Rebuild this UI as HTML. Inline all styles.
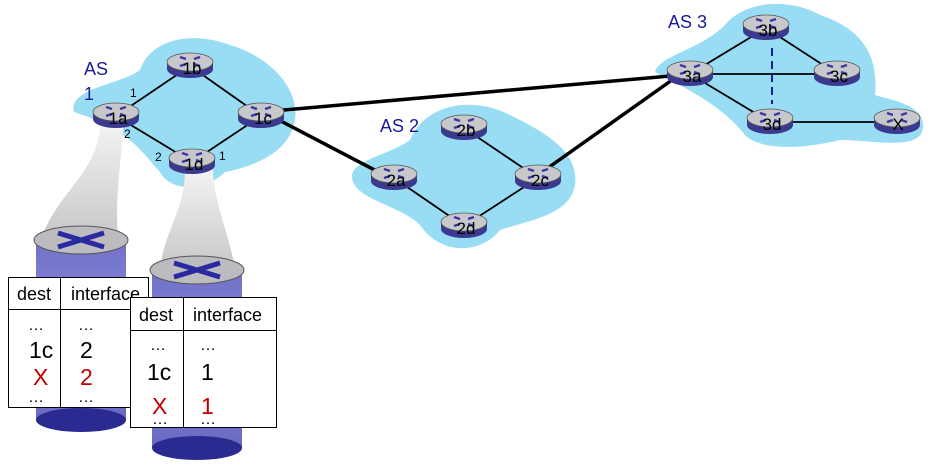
<!DOCTYPE html>
<html><head><style>body{margin:0;background:#fff}svg{display:block}text{font-family:"Liberation Sans",sans-serif}</style></head><body>
<svg width="933" height="473" viewBox="0 0 933 473" xmlns="http://www.w3.org/2000/svg">
<defs>
<linearGradient id="fun" x1="0" y1="0" x2="0" y2="1"><stop offset="0" stop-color="#f4f4f4"/><stop offset="1" stop-color="#c8c8c8"/></linearGradient>
<linearGradient id="cyl" x1="0" y1="0" x2="0" y2="1"><stop offset="0" stop-color="#7070c8"/><stop offset="0.5" stop-color="#8c8cdc"/><stop offset="1" stop-color="#6868c0"/></linearGradient>
<g id="r"><path d="M-23,0 v7 a23,9 0 0 0 46,0 v-7z" fill="#3a3a90"/><ellipse cx="0" cy="0" rx="23" ry="9" fill="#c8c8cc" stroke="#555" stroke-width="0.8"/><path d="M-10,-5 l6,2 M10,-5 l-6,2 M-10,4 l6,-2 M10,4 l-6,-2" stroke="#3a3aa0" stroke-width="2.5"/></g>
</defs>
<path d="M74,112 C68,88 120,85 140,70 C150,40 190,30 230,45 C265,55 300,85 295,120 C290,150 260,165 225,172 C205,192 170,192 160,172 C140,150 130,130 74,112Z" fill="#99ddf5"/>
<path d="M352,178 C350,160 390,155 410,140 C425,105 470,95 510,115 C540,130 580,150 575,185 C570,215 530,220 500,230 C480,255 440,255 420,225 C400,205 355,200 352,178Z" fill="#99ddf5"/>
<path d="M655,72 C660,55 700,50 725,25 C745,0 790,-2 820,15 C850,25 880,45 875,95 C890,100 930,105 922,132 C915,150 870,140 840,140 C800,150 760,150 745,135 C725,110 700,95 655,72Z" fill="#99ddf5"/>
<path d="M100,122 L124,122 C120,170 115,200 118,236 L42,236 C60,190 100,170 100,122Z" fill="url(#fun)"/>
<path d="M185,168 L213,168 C213,200 228,230 235,268 L160,268 C165,230 185,210 185,168Z" fill="url(#fun)"/>
<g stroke="#000" stroke-width="1.8">
<line x1="116" y1="116" x2="190" y2="66"/><line x1="190" y1="66" x2="261" y2="116"/><line x1="116" y1="116" x2="192" y2="162"/><line x1="192" y1="162" x2="261" y2="116"/>
<line x1="394" y1="178" x2="464" y2="226"/><line x1="464" y1="226" x2="538" y2="178"/><line x1="464" y1="128" x2="538" y2="178"/>
<line x1="690" y1="74" x2="766" y2="28"/><line x1="766" y1="28" x2="837" y2="74"/><line x1="690" y1="74" x2="837" y2="74"/><line x1="690" y1="74" x2="770" y2="122"/><line x1="770" y1="122" x2="897" y2="122"/>
</g>
<g stroke="#000" stroke-width="3.5">
<line x1="261" y1="112" x2="670" y2="76"/><line x1="275" y1="118" x2="388" y2="177"/><line x1="538" y1="175" x2="672" y2="80"/>
</g>
<line x1="772" y1="48" x2="772" y2="104" stroke="#1a1aa0" stroke-width="2" stroke-dasharray="8,5"/>
<g font-size="17" text-anchor="middle" fill="#000">
<use href="#r" x="116" y="112"/><text x="118" y="124">1a</text>
<use href="#r" x="190" y="62"/><text x="192" y="74">1b</text>
<use href="#r" x="261" y="112"/><text x="263" y="124">1c</text>
<use href="#r" x="192" y="158"/><text x="194" y="170">1d</text>
<use href="#r" x="394" y="174"/><text x="396" y="186">2a</text>
<use href="#r" x="464" y="124"/><text x="466" y="136">2b</text>
<use href="#r" x="538" y="174"/><text x="540" y="186">2c</text>
<use href="#r" x="464" y="222"/><text x="466" y="234">2d</text>
<use href="#r" x="690" y="70"/><text x="692" y="82">3a</text>
<use href="#r" x="766" y="24"/><text x="768" y="36">3b</text>
<use href="#r" x="837" y="70"/><text x="839" y="82">3c</text>
<use href="#r" x="770" y="118"/><text x="772" y="130">3d</text>
<use href="#r" x="897" y="118"/><text x="898" y="130">X</text>
</g>
<g font-size="12"><text x="130" y="97">1</text><text x="124" y="138">2</text><text x="155" y="161">2</text><text x="219" y="160">1</text></g>
<g font-size="18" fill="#1a1a9a"><text x="84" y="75">AS</text><text x="84" y="100">1</text><text x="380" y="132">AS 2</text><text x="668" y="28">AS 3</text></g>
<rect x="36" y="240" width="90" height="180" fill="url(#cyl)"/>
<ellipse cx="81" cy="420" rx="45" ry="12" fill="#2a2a90"/>
<ellipse cx="81" cy="240" rx="47" ry="14" fill="#bcbcc0" stroke="#555"/>
<path d="M58,233 L104,247 M104,233 L58,247" stroke="#2a2aa0" stroke-width="5"/>
<rect x="152" y="270" width="90" height="178" fill="url(#cyl)"/>
<ellipse cx="197" cy="448" rx="45" ry="12" fill="#2a2a90"/>
<ellipse cx="197" cy="270" rx="47" ry="14" fill="#bcbcc0" stroke="#555"/>
<path d="M174,263 L220,277 M220,263 L174,277" stroke="#2a2aa0" stroke-width="5"/>
<rect x="8.5" y="277.5" width="140" height="130" fill="#fff" stroke="#000"/>
<line x1="8" y1="309.5" x2="148" y2="309.5" stroke="#000"/><line x1="60.5" y1="277" x2="60.5" y2="407" stroke="#000"/>
<g font-size="18"><text x="17" y="300">dest</text><text x="71" y="300">interface</text></g>
<g font-size="23"><text x="28" y="330" font-size="16">…</text><text x="78" y="330" font-size="16">…</text>
<text x="29" y="358">1c</text><text x="80" y="358">2</text>
<text x="33" y="385" fill="#c00000">X</text><text x="80" y="385" fill="#c00000">2</text>
<text x="28" y="402" font-size="16">…</text><text x="78" y="402" font-size="16">…</text></g>
<rect x="130.5" y="297.5" width="146" height="130" fill="#fff" stroke="#000"/>
<line x1="130" y1="330.5" x2="276" y2="330.5" stroke="#000"/><line x1="183.5" y1="297" x2="183.5" y2="428" stroke="#000"/>
<g font-size="18"><text x="139" y="321">dest</text><text x="193" y="321">interface</text></g>
<g font-size="23"><text x="150" y="350" font-size="16">…</text><text x="200" y="350" font-size="16">…</text>
<text x="147" y="380">1c</text><text x="201" y="380">1</text>
<text x="152" y="414" fill="#c00000">X</text><text x="201" y="414" fill="#c00000">1</text>
<text x="152" y="424" font-size="16">…</text><text x="200" y="424" font-size="16">…</text></g>
</svg>
</body></html>
